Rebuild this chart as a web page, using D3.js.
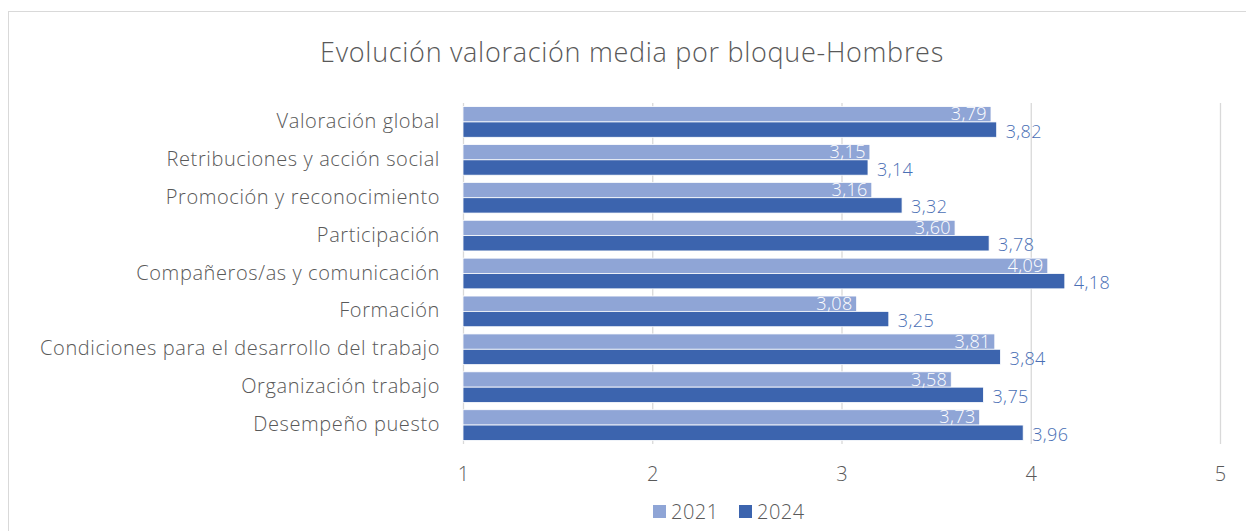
<!DOCTYPE html>
<html>
<head>
<meta charset="utf-8">
<script src="https://cdn.jsdelivr.net/npm/d3@7"></script>
<style>
  body { margin: 0; background: #fff; }
  svg text { font-family: "Open Sans", Lato, sans-serif; font-weight: 300; }
</style>
</head>
<body>
<script>
// data
var categories = ["Valoración global", "Retribuciones y acción social", "Promoción y reconocimiento",
  "Participación", "Compañeros/as y comunicación", "Formación",
  "Condiciones para el desarrollo del trabajo", "Organización trabajo", "Desempeño puesto"];
var series = ["2021", "2024"];
var values2021 = [3.79, 3.15, 3.16, 3.60, 4.09, 3.08, 3.81, 3.58, 3.73];
var values2024 = [3.82, 3.14, 3.32, 3.78, 4.18, 3.25, 3.84, 3.75, 3.96];
var xTicks = [1, 2, 3, 4, 5];

var W = 1246, H = 531;
var colors = {"2021": "#8FA5D6", "2024": "#3C64AE"};

var svg = d3.select("body").append("svg").attr("width", W).attr("height", H);

// chart border
svg.append("rect").attr("x", 8.5).attr("y", 11.5).attr("width", W).attr("height", H)
  .attr("fill", "none").attr("stroke", "#d9d9d9").attr("stroke-width", 1);

svg.append("text").attr("x", 632).attr("y", 62).attr("text-anchor", "middle")
  .style("font-size", "27px").style("letter-spacing", "0.7px").attr("fill", "#595959")
  .text("Evolución valoración media por bloque-Hombres");

var x = d3.scaleLinear().domain([1, 5]).range([463, 1220]);
var y = d3.scaleBand().domain(categories).range([103, 444]).paddingInner(0.19).paddingOuter(0.095);
var y1 = d3.scaleBand().domain(series).range([0, y.bandwidth()]);

// gridlines
svg.append("g").selectAll("line").data(xTicks).join("line")
  .attr("x1", d => x(d) + 0.5).attr("x2", d => x(d) + 0.5)
  .attr("y1", 103).attr("y2", 444)
  .attr("stroke", "#d9d9d9").attr("stroke-width", 1.3);

var rows = categories.map((c, i) => ({c: c, v: {"2021": values2021[i], "2024": values2024[i]}}));

var g = svg.append("g").selectAll("g").data(rows).join("g")
  .attr("transform", d => "translate(0," + y(d.c) + ")");

g.selectAll("rect").data(d => series.map(s => ({s: s, v: d.v[s]}))).join("rect")
  .attr("x", x(1)).attr("y", d => y1(d.s))
  .attr("width", d => x(d.v) - x(1)).attr("height", y1.bandwidth())
  .attr("fill", d => colors[d.s])
  .attr("stroke", "#fff").attr("stroke-width", 0.8);

var fmt = v => d3.format(".2f")(v).replace(".", ",");

// 2021 labels inside end, 2024 labels outside end
g.append("text")
  .attr("x", d => x(d.v["2021"]) - 4).attr("y", y1("2021") + y1.bandwidth() / 2 + 6)
  .attr("text-anchor", "end").style("font-size", "18px").style("letter-spacing", "0.4px")
  .attr("fill", "#fff")
  .text(d => fmt(d.v["2021"]));
g.append("text")
  .attr("x", d => x(d.v["2024"]) + 9).attr("y", y1("2024") + y1.bandwidth() / 2 + 8)
  .attr("text-anchor", "start").style("font-size", "18px").style("letter-spacing", "0.4px")
  .attr("fill", "#4A6FB5")
  .text(d => fmt(d.v["2024"]));

// category axis labels
svg.append("g").selectAll("text").data(categories).join("text")
  .attr("x", 440).attr("y", d => y(d) + y.bandwidth() / 2 + 6)
  .attr("text-anchor", "end").style("font-size", "20px").style("letter-spacing", "0.6px")
  .attr("fill", "#595959")
  .text(d => d);

// x axis
var xAxis = svg.append("g").attr("transform", "translate(0,444)")
  .call(d3.axisBottom(x).tickValues(xTicks).tickSize(0).tickPadding(23).tickFormat(d3.format("d")));
xAxis.select(".domain").remove();
xAxis.selectAll("text").style("font-size", "20px").attr("fill", "#595959")
  .style("font-family", "\"Open Sans\", sans-serif").style("font-weight", 300);

// legend
var leg = svg.append("g").attr("transform", "translate(653,505)");
series.forEach(function (s, i) {
  var lg = leg.append("g").attr("transform", "translate(" + (i * 86) + ",0)");
  lg.append("rect").attr("width", 13).attr("height", 13).attr("fill", colors[s]);
  lg.append("text").attr("x", 18).attr("y", 14).style("font-size", "20px")
    .style("letter-spacing", "0.5px").attr("fill", "#595959").text(s);
});
</script>
</body>
</html>
